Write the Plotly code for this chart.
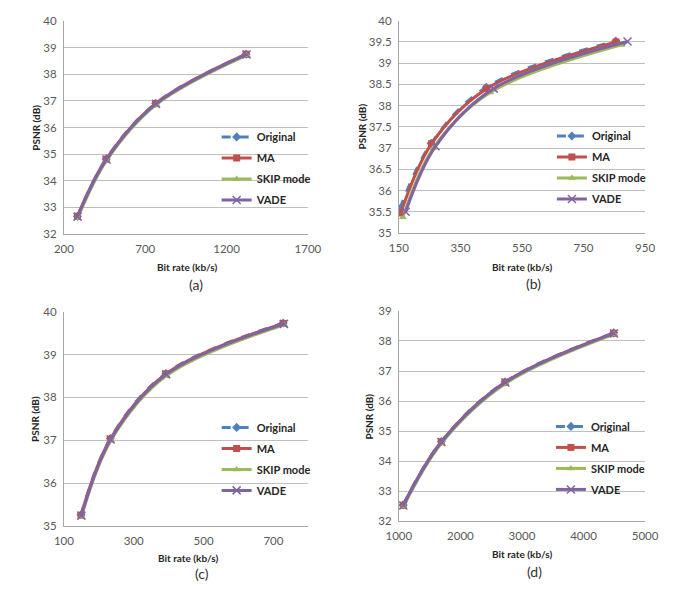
import plotly.graph_objects as go

W, H = 685, 593

# ---------------- data ----------------
series_names = ["Original", "MA", "SKIP mode", "VADE"]

# (a)
a_orig_x = [283, 460, 764, 1320]
a_orig_y = [32.66, 34.82, 36.91, 38.76]
a_ma_x = [283, 460, 764, 1320]
a_ma_y = [32.66, 34.81, 36.9, 38.76]
a_skip_x = [285, 463, 768, 1325]
a_skip_y = [32.6, 34.76, 36.86, 38.72]
a_vade_x = [284, 462, 766, 1323]
a_vade_y = [32.65, 34.8, 36.89, 38.75]

# (b)
b_orig_x = [153, 255, 434, 855]
b_orig_y = [35.57, 37.11, 38.43, 39.52]
b_ma_x = [156, 256, 436, 856]
b_ma_y = [35.47, 37.1, 38.4, 39.5]
b_skip_x = [163, 262, 447, 874]
b_skip_y = [35.37, 37.0, 38.31, 39.43]
b_vade_x = [172, 269, 458, 893]
b_vade_y = [35.5, 37.04, 38.4, 39.51]

# (c)
c_orig_x = [149, 233, 392, 728]
c_orig_y = [35.26, 37.04, 38.56, 39.74]
c_ma_x = [149, 233, 392, 728]
c_ma_y = [35.25, 37.03, 38.55, 39.73]
c_skip_x = [150, 235, 394, 731]
c_skip_y = [35.21, 37.0, 38.51, 39.7]
c_vade_x = [150, 234, 393, 730]
c_vade_y = [35.24, 37.02, 38.54, 39.72]

# (d)
d_orig_x = [1070, 1690, 2725, 4490]
d_orig_y = [32.55, 34.66, 36.64, 38.27]
d_ma_x = [1070, 1690, 2725, 4490]
d_ma_y = [32.54, 34.65, 36.63, 38.26]
d_skip_x = [1075, 1695, 2735, 4500]
d_skip_y = [32.5, 34.61, 36.59, 38.23]
d_vade_x = [1072, 1692, 2730, 4495]
d_vade_y = [32.53, 34.64, 36.62, 38.25]

panels = [
    ([a_orig_x, a_ma_x, a_skip_x, a_vade_x], [a_orig_y, a_ma_y, a_skip_y, a_vade_y]),
    ([b_orig_x, b_ma_x, b_skip_x, b_vade_x], [b_orig_y, b_ma_y, b_skip_y, b_vade_y]),
    ([c_orig_x, c_ma_x, c_skip_x, c_vade_x], [c_orig_y, c_ma_y, c_skip_y, c_vade_y]),
    ([d_orig_x, d_ma_x, d_skip_x, d_vade_x], [d_orig_y, d_ma_y, d_skip_y, d_vade_y]),
]

captions = ["(a)", "(b)", "(c)", "(d)"]
x_ranges = [[200, 1700], [150, 950], [100, 800], [1000, 5000]]
x_tick0 = [200, 150, 100, 1000]
x_dtick = [500, 200, 200, 1000]
y_ranges = [[32, 40], [35, 40], [35, 40], [32, 39]]
y_dtick = [1, 0.5, 1, 1]

# ---------------- style ----------------
colors = ["#4F81BD", "#C0504D", "#9BBB59", "#8064A2"]
symbols = ["diamond", "square", "triangle-up", "x-thin"]
dashes = ["dash", "solid", "solid", "solid"]
FONT = "Lato"

# pixel geometry of plot areas: (left, right, top, bottom)
boxes = [
    (53, 307, 14.5, 232),
    (401.7, 658, 14, 231),
    (53, 307.5, 311.7, 530.5),
    (401.7, 658, 310.7, 526),
]
legend_pos = [(212, 118), (561, 117), (212, 415), (560, 414)]
psnr_x = [23, 363, 23, 371]
bitrate_pos = [(181, 266), (530, 265.7), (182, 563.3), (530, 559.3)]
caption_pos = [(191, 284), (542, 283), (197, 579.5), (543, 577)]

fig = go.Figure()

for p, (xs, ys) in enumerate(panels):
    xa = "x" if p == 0 else f"x{p+1}"
    ya = "y" if p == 0 else f"y{p+1}"
    lg = "legend" if p == 0 else f"legend{p+1}"
    for s in range(4):
        mk = dict(symbol=symbols[s], size=7 if s != 3 else 8, color=colors[s])
        if s == 3:
            mk["line"] = dict(color=colors[s], width=1.5)
        fig.add_trace(go.Scatter(
            x=xs[s], y=ys[s], name=series_names[s], mode="lines+markers",
            line=dict(color=colors[s], width=3, dash=dashes[s], shape="spline", smoothing=1),
            marker=mk, xaxis=xa, yaxis=ya, legend=lg, legendgroup=f"p{p}s{s}",
        ))

layout = dict(
    width=W, height=H, margin=dict(l=0, r=0, t=0, b=0),
    paper_bgcolor="white", plot_bgcolor="white", showlegend=True,
    font=dict(family=FONT, color="#404040"),
)

annotations = []
for p in range(4):
    L, R, T, B = boxes[p]
    sx = "" if p == 0 else str(p + 1)
    layout["xaxis" + sx] = dict(
        domain=[L / W, R / W], anchor="y" + sx, range=x_ranges[p],
        tick0=x_tick0[p], dtick=x_dtick[p], showgrid=False, zeroline=False,
        showline=True, linecolor="#A6A6A6", linewidth=1, ticks="",
        tickfont=dict(size=11.5, color="#595959", family=FONT), ticklabelstandoff=4,
    )
    layout["yaxis" + sx] = dict(
        domain=[1 - B / H, 1 - T / H], anchor="x" + sx, range=y_ranges[p],
        dtick=y_dtick[p], showgrid=True, gridcolor="#BFBFBF", gridwidth=1,
        zeroline=False, showline=True, linecolor="#A6A6A6", linewidth=1, ticks="",
        tickfont=dict(size=11.5, color="#595959", family=FONT), ticklabelstandoff=4,
    )
    lx, ly = legend_pos[p]
    layout["legend" if p == 0 else f"legend{p+1}"] = dict(
        x=lx / W, y=1 - ly / H, xanchor="left", yanchor="top",
        bgcolor="rgba(0,0,0,0)", borderwidth=0,
        font=dict(size=11, color="#262626", family=FONT, weight="bold"),
        itemwidth=30, tracegroupgap=2,
    )
    annotations.append(dict(
        text="<b>PSNR (dB)</b>", x=psnr_x[p] / W, y=1 - ((T + B) / 2) / H,
        xref="paper", yref="paper", showarrow=False, textangle=-90,
        xanchor="center", yanchor="middle",
        font=dict(size=10, color="#262626", family=FONT),
    ))
    bx, by = bitrate_pos[p]
    annotations.append(dict(
        text="<b>Bit rate (kb/s)</b>", x=bx / W, y=1 - by / H,
        xref="paper", yref="paper", showarrow=False,
        xanchor="center", yanchor="middle",
        font=dict(size=10, color="#262626", family=FONT),
    ))
    cx, cy = caption_pos[p]
    annotations.append(dict(
        text=captions[p], x=cx / W, y=1 - cy / H,
        xref="paper", yref="paper", showarrow=False,
        xanchor="center", yanchor="middle",
        font=dict(size=14, color="#333333", family=FONT),
    ))

layout["annotations"] = annotations
fig.update_layout(**layout)
fig.write_html("out.html", config={"displayModeBar": False},
               post_script="document.body.style.margin='0';document.body.style.padding='0';")
